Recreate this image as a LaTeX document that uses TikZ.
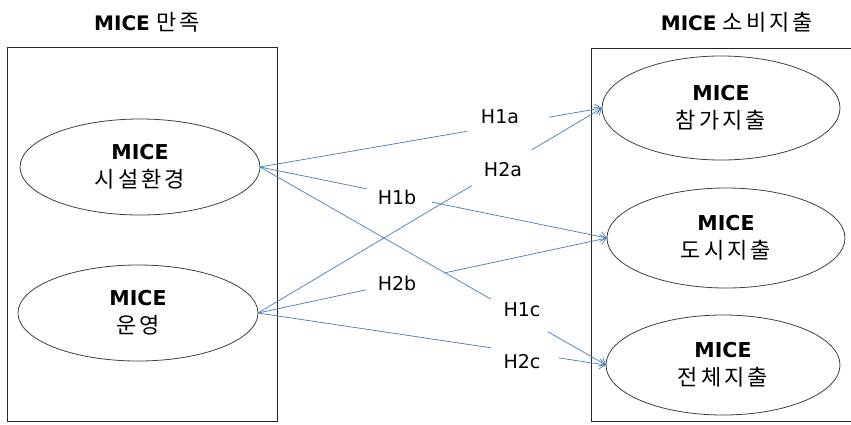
\documentclass[tikz,border=0pt]{standalone}
\usepackage{fontspec}
\setmainfont{DejaVu Sans}
\newfontfamily\kr[LetterSpace=14]{Noto Sans CJK KR}
\usetikzlibrary{arrows.meta,calc}
\begin{document}
\begin{tikzpicture}[x=1pt,y=-1pt,
  panel/.style={draw=black!85,line width=0.9pt},
  oval/.style={draw=black!75,line width=0.8pt},
  conn/.style={draw={rgb,255:red,79;green,129;blue,189},line width=0.75pt},
  arr/.style={conn,-{Straight Barb[length=6pt,width=10pt,line width=0.75pt]}},
  hlab/.style={font=\fontsize{19}{22}\selectfont,inner sep=1pt},
  ttl/.style={font=\fontsize{20}{22}\selectfont},
  otext/.style={align=center,font=\fontsize{20.5}{28}\selectfont}
]
\useasboundingbox (0,0) rectangle (851,424);
% panels
\draw[panel] (7,47) rectangle (277,421);
\draw[panel] (860,48) -- (591,48) -- (591,421) -- (860,421);
\node[ttl] (t1) at (147,22) {\textbf{MICE} {\kr\fontsize{22}{22}\selectfont 만족}};
\node[ttl] (t2) at (737,22) {\textbf{MICE} {\kr\fontsize{22}{22}\selectfont 소비지출}};
% ellipses
\draw[oval] (140,167) ellipse [x radius=120,y radius=48];
\draw[oval] (138,313) ellipse [x radius=120,y radius=48];
\draw[oval] (721,108) ellipse [x radius=119,y radius=52];
\draw[oval] (726,238) ellipse [x radius=119,y radius=50];
\draw[oval] (723,365) ellipse [x radius=117,y radius=50];
\coordinate (s1) at (260,167);
\coordinate (s2) at (258,313);
\coordinate (ta) at (602,108);
\coordinate (tb) at (607,238);
\coordinate (tc) at (606,365);
\node[otext] (e1) at (140,167) {\textbf{MICE}\\{\kr\fontsize{22}{28}\selectfont 시설환경}};
\node[otext] (e2) at (138,313) {\textbf{MICE}\\{\kr\fontsize{22}{28}\selectfont 운영}};
\node[otext] (ea) at (721,108) {\textbf{MICE}\\{\kr\fontsize{22}{28}\selectfont 참가지출}};
\node[otext] (eb) at (726,238) {\textbf{MICE}\\{\kr\fontsize{22}{28}\selectfont 도시지출}};
\node[otext] (ec) at (723,365) {\textbf{MICE}\\{\kr\fontsize{22}{28}\selectfont 전체지출}};
% labels
\node[hlab] (h1a) at (500,117) {H1a};
\node[hlab] (h2a) at (503,170) {H2a};
\node[hlab] (h1b) at (397,197) {H1b};
\node[hlab] (h2b) at (397,283) {H2b};
\node[hlab] (h1c) at (522,310) {H1c};
\node[hlab] (h2c) at (522,362) {H2c};
% gap coordinates
\coordinate (g1a1) at ($(s1)!0.606!(ta)$); \coordinate (g1a2) at ($(s1)!0.845!(ta)$);
\coordinate (g2a1) at ($(s2)!0.621!(ta)$); \coordinate (g2a2) at ($(s2)!0.795!(ta)$);
\coordinate (g1b1) at ($(s1)!0.308!(tb)$); \coordinate (g1b2) at ($(s1)!0.496!(tb)$);
\coordinate (g2b1) at ($(s2)!0.309!(tb)$); \coordinate (g2b2) at ($(s2)!0.537!(tb)$);
\coordinate (g1c1) at ($(s1)!0.667!(tc)$); \coordinate (g1c2) at ($(s1)!0.832!(tc)$);
\coordinate (g2c1) at ($(s2)!0.670!(tc)$); \coordinate (g2c2) at ($(s2)!0.865!(tc)$);
% connectors
\draw[conn] (s1) -- (g1a1); \draw[arr] (g1a2) -- (ta);
\draw[conn] (s2) -- (g2a1); \draw[arr] (g2a2) -- (ta);
\draw[conn] (s1) -- (g1b1); \draw[arr] (g1b2) -- (tb);
\draw[conn] (s2) -- (g2b1); \draw[arr] (g2b2) -- (tb);
\draw[conn] (s1) -- (g1c1); \draw[arr] (g1c2) -- (tc);
\draw[conn] (s2) -- (g2c1); \draw[arr] (g2c2) -- (tc);
\end{tikzpicture}
\end{document}
